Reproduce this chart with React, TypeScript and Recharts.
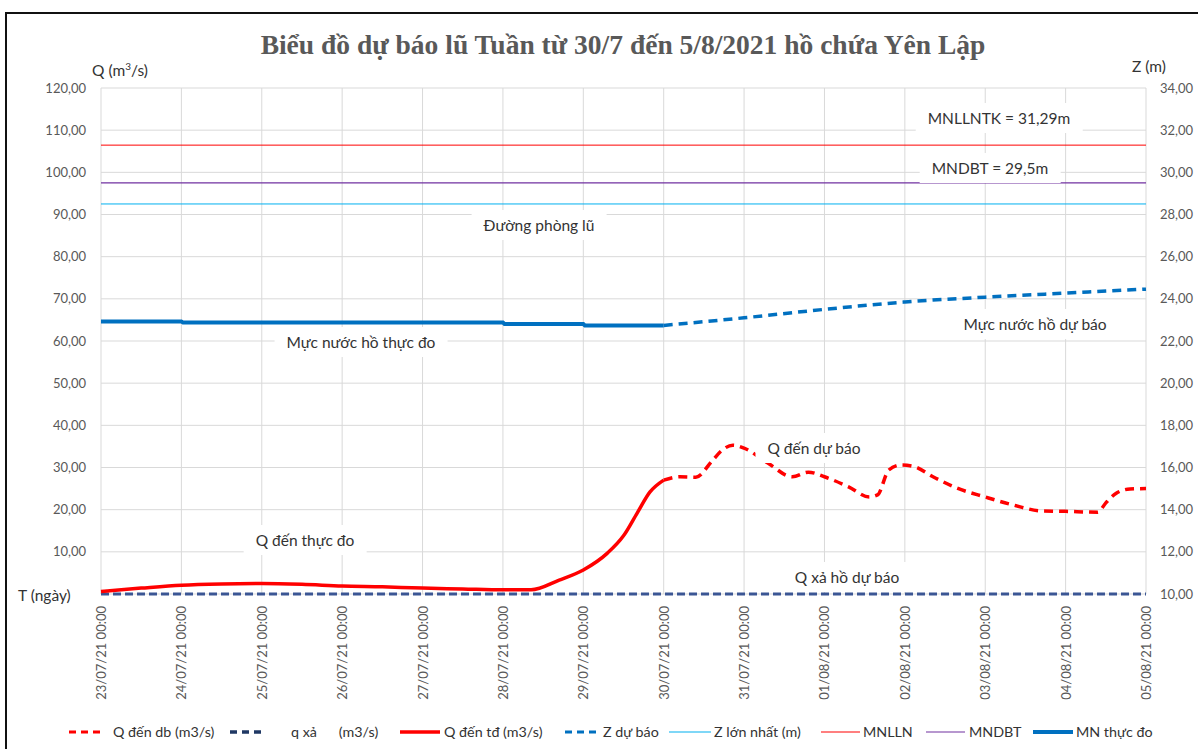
import React from 'react';
import { LineChart, Line, XAxis, YAxis, CartesianGrid } from 'recharts';

// ---- data ----
const dayLabels = [
  '23/07/21 00:00', '24/07/21 00:00', '25/07/21 00:00', '26/07/21 00:00', '27/07/21 00:00',
  '28/07/21 00:00', '29/07/21 00:00', '30/07/21 00:00', '31/07/21 00:00', '01/08/21 00:00',
  '02/08/21 00:00', '03/08/21 00:00', '04/08/21 00:00', '05/08/21 00:00',
];
const qTicks = [0, 10, 20, 30, 40, 50, 60, 70, 80, 90, 100, 110, 120];
const zTicks = [10, 12, 14, 16, 18, 20, 22, 24, 26, 28, 30, 32, 34];

// Q đến thực đo (days since 23/07)
const qTdT = [0, 0.5, 1, 1.5, 2, 2.5, 3, 3.5, 4, 4.5, 5, 5.35, 5.7, 6, 6.3, 6.5, 6.67, 6.83, 7];
const qTdV = [0.6, 1.4, 2.1, 2.4, 2.5, 2.3, 1.9, 1.7, 1.4, 1.2, 1.0, 1.0, 3.3, 5.7, 9.7, 13.8, 19.2, 24.2, 27];

// Q đến dự báo
const qDbT = [7, 7.2, 7.4, 7.6, 7.72, 7.86, 8.0, 8.3, 8.6, 8.8, 9.0, 9.3, 9.56, 9.66, 9.8, 9.95, 10.1, 10.35, 10.65, 11.0, 11.35, 11.7, 12.0, 12.4, 12.5, 12.63, 12.8, 13];
const qDbV = [27, 27.8, 27.7, 31.5, 34, 35.3, 34.6, 31, 27.8, 28.9, 27.8, 25.4, 23, 23.5, 29.4, 30.6, 30.3, 27.8, 25.1, 23, 21.1, 19.7, 19.6, 19.4, 21.6, 23.9, 24.9, 25];

// q xả
const qXaT = [0, 13];
const qXaV = [0, 0];

// Mực nước thực đo (Z, m)
const mnTdT = [0, 1, 1.02, 5, 5.02, 6, 6.02, 7];
const mnTdV = [22.92, 22.92, 22.88, 22.88, 22.81, 22.81, 22.74, 22.74];

// Z dự báo
const zDbT = [7, 8, 9, 10, 11, 12, 13];
const zDbV = [22.74, 23.1, 23.5, 23.85, 24.08, 24.27, 24.46];

// Constant levels
const zMaxLevel = 28.5;
const mnllnLevel = 31.29;
const mndbtLevel = 29.5;
const spanT = [0, 13];

const toRows = (ts: number[], vs: number[]) => ts.map((t, i) => ({ t, v: vs[i] }));
const constRows = (v: number) => spanT.map((t) => ({ t, v }));

const fmt = (v: number) => v.toFixed(2).replace('.', ',');

const FONT = 'Lato, "Open Sans", sans-serif';
const GRAY = '#595959';

const XTick = (props: any) => {
  const { x, y, payload } = props;
  return (
    <g transform={`translate(${x},${y})`}>
      <text transform="rotate(-90)" x={0} y={5} textAnchor="end" fontSize={13} fill={GRAY} fontFamily={FONT}>
        {dayLabels[payload.value]}
      </text>
    </g>
  );
};

const legendItems = [
  { label: 'Q đến db (m3/s)', color: '#FF0000', dash: '7 5', w: 3, x0: 69, x1: 104, tx: 113 },
  { label: 'q xả      (m3/s)', color: '#1F3864', dash: '7 5', w: 3.5, x0: 230, x1: 265, tx: 291 },
  { label: 'Q đến tđ (m3/s)', color: '#FF0000', dash: '', w: 3.5, x0: 400, x1: 440, tx: 444 },
  { label: 'Z dự báo', color: '#0070C0', dash: '7 5', w: 3, x0: 565, x1: 598, tx: 603 },
  { label: 'Z lớn nhất (m)', color: '#00B0F0', dash: '', w: 1.2, x0: 669, x1: 711, tx: 714 },
  { label: 'MNLLN', color: '#FF0000', dash: '', w: 1.2, x0: 821, x1: 860, tx: 863 },
  { label: 'MNDBT', color: '#7030A0', dash: '', w: 1.2, x0: 926, x1: 965, tx: 969 },
  { label: 'MN thực đo', color: '#0070C0', dash: '', w: 4, x0: 1033, x1: 1073, tx: 1076 },
];

const notes = [
  { text: 'MNLLNTK = 31,29m', cx: 999, cy: 118 },
  { text: 'MNDBT = 29,5m', cx: 990, cy: 168 },
  { text: 'Đường phòng lũ', cx: 539, cy: 225 },
  { text: 'Mực nước hồ thực đo', cx: 361, cy: 342 },
  { text: 'Mực nước hồ dự báo', cx: 1035, cy: 324 },
  { text: 'Q đến dự báo', cx: 814, cy: 448 },
  { text: 'Q đến thực đo', cx: 305, cy: 540 },
  { text: 'Q xả hồ dự báo', cx: 847, cy: 577 },
];

export default function App() {
  return (
    <div style={{ position: 'absolute', left: 0, top: 0, width: 1198, height: 749, background: '#fff', overflow: 'hidden', fontFamily: FONT }}>
      <div style={{ position: 'absolute', left: 5, top: 12, width: 1300, height: 800, border: '2px solid #111', boxSizing: 'border-box' }} />
      <LineChart width={1198} height={749} margin={{ top: 88, right: 0, left: 0, bottom: 35 }} style={{ position: 'absolute', left: 0, top: 0 }}>
        <CartesianGrid yAxisId="q" xAxisId="x" stroke="#d9d9d9" strokeWidth={1} horizontalValues={qTicks} verticalValues={dayLabels.map((_, i) => i)} />
        <XAxis xAxisId="x" dataKey="t" type="number" domain={[0, 13]} ticks={dayLabels.map((_, i) => i)} interval={0}
          height={120} tickSize={0} tickMargin={12} axisLine={false} tickLine={false} tick={<XTick />} />
        <YAxis yAxisId="q" orientation="left" width={101} domain={[0, 120]} ticks={qTicks} interval={0}
          tickSize={0} tickMargin={15} axisLine={false} tickLine={false}
          tickFormatter={(v: number) => (v === 0 ? '' : fmt(v))}
          tick={{ fontSize: 13, fill: GRAY, fontFamily: FONT }} />
        <YAxis yAxisId="z" orientation="right" width={52} domain={[10, 34]} ticks={zTicks} interval={0}
          tickSize={0} tickMargin={14} axisLine={false} tickLine={false}
          tickFormatter={(v: number) => fmt(v)}
          tick={{ fontSize: 13, fill: GRAY, fontFamily: FONT }} />

        <Line xAxisId="x" yAxisId="z" data={constRows(zMaxLevel)} dataKey="v" stroke="#00B0F0" strokeWidth={1} dot={false} isAnimationActive={false} type="linear" />
        <Line xAxisId="x" yAxisId="z" data={constRows(mnllnLevel)} dataKey="v" stroke="#FF0000" strokeWidth={1} dot={false} isAnimationActive={false} type="linear" />
        <Line xAxisId="x" yAxisId="z" data={constRows(mndbtLevel)} dataKey="v" stroke="#7030A0" strokeWidth={1.3} dot={false} isAnimationActive={false} type="linear" />
        <Line xAxisId="x" yAxisId="z" data={toRows(mnTdT, mnTdV)} dataKey="v" stroke="#0070C0" strokeWidth={4} dot={false} isAnimationActive={false} type="linear" />
        <Line xAxisId="x" yAxisId="z" data={toRows(zDbT, zDbV)} dataKey="v" stroke="#0070C0" strokeWidth={3.5} strokeDasharray="9 6" dot={false} isAnimationActive={false} type="monotone" />
        <Line xAxisId="x" yAxisId="q" data={toRows(qXaT, qXaV)} dataKey="v" stroke="#3B5694" strokeWidth={3} strokeDasharray="8 4" dot={false} isAnimationActive={false} type="linear" />
        <Line xAxisId="x" yAxisId="q" data={toRows(qTdT, qTdV)} dataKey="v" stroke="#FF0000" strokeWidth={3.5} dot={false} isAnimationActive={false} type="monotone" />
        <Line xAxisId="x" yAxisId="q" data={toRows(qDbT, qDbV)} dataKey="v" stroke="#FF0000" strokeWidth={3.5} strokeDasharray="9 6" dot={false} isAnimationActive={false} type="monotone" />
      </LineChart>

      <div style={{ position: 'absolute', left: 0, width: 1246, top: 29, textAlign: 'center', fontFamily: '"Liberation Serif", "Times New Roman", serif', fontWeight: 'bold', fontSize: 27.5, color: GRAY, whiteSpace: 'nowrap' }}>
        Biểu đồ dự báo lũ Tuần từ 30/7 đến 5/8/2021 hồ chứa Yên Lập
      </div>
      <div style={{ position: 'absolute', left: 92, top: 60, fontSize: 15.5, color: '#333', lineHeight: '20px' }}>Q (m<sup style={{ fontSize: 10, lineHeight: 0 }}>3</sup>/s)</div>
      <div style={{ position: 'absolute', left: 1132, top: 56, fontSize: 15.5, color: '#333', lineHeight: '20px' }}>Z (m)</div>
      <div style={{ position: 'absolute', left: 18, top: 585, fontSize: 15.5, color: '#333', lineHeight: '20px' }}>T (ngày)</div>

      {notes.map((n) => (
        <div key={n.text} style={{ position: 'absolute', left: n.cx, top: n.cy, transform: 'translate(-50%,-50%)', background: '#fff', padding: '6px 12px', fontSize: 15.5, color: '#333', whiteSpace: 'nowrap' }}>
          {n.text}
        </div>
      ))}

      {legendItems.map((it) => (
        <React.Fragment key={it.label}>
          <svg style={{ position: 'absolute', left: it.x0, top: 726 }} width={it.x1 - it.x0} height={12}>
            <line x1={0} y1={6} x2={it.x1 - it.x0} y2={6} stroke={it.color} strokeWidth={it.w} strokeDasharray={it.dash || undefined} />
          </svg>
          <div style={{ position: 'absolute', left: it.tx, top: 722, fontSize: 14.3, color: '#333', whiteSpace: 'pre', lineHeight: '20px' }}>{it.label}</div>
        </React.Fragment>
      ))}
    </div>
  );
}
